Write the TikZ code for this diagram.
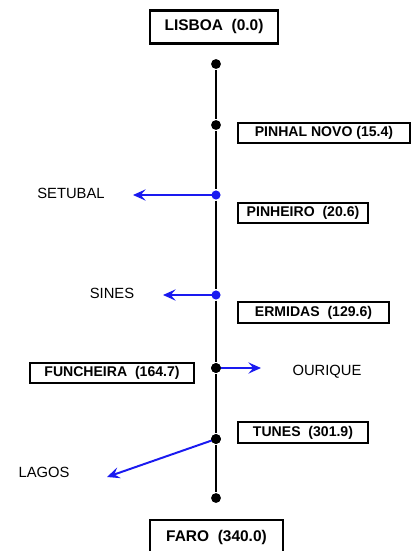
\documentclass[tikz,border=0pt]{standalone}
\usepackage{fontspec}
\setsansfont{Liberation Sans}
\usetikzlibrary{arrows.meta}
\definecolor{lblue}{HTML}{1A1AF0}
\tikzset{
  every picture/.style={font=\sffamily, line width=1.4pt},
  station/.style={draw, line width=0.8pt, font=\sffamily\bfseries, minimum height=0.5cm, inner sep=0pt},
  terminal/.style={draw, line width=1.6pt, font=\sffamily\bfseries\fontsize{11}{13}\selectfont, inner sep=0pt},
  stop/.style={circle, fill=#1, inner sep=0pt, minimum size=7pt},
  stop/.default=black,
  branch/.style={-{Stealth[length=9pt, width=8pt, inset=3.5pt]}, draw=lblue, line width=1.4pt},
  town/.style={font=\sffamily\fontsize{10.5}{12}\selectfont},
}
\begin{document}
\begin{tikzpicture}[x=0.025cm, y=-0.025cm]
  \useasboundingbox (0,0) rectangle (412,551);
  % terminals
  \node[terminal, minimum width=3.2cm, minimum height=0.825cm] (lisboa) at (214,27) {LISBOA\ \ (0.0)};
  \node[terminal, minimum width=3.325cm, minimum height=0.85cm] (faro) at (216.5,537) {FARO\ \ (340.0)};
  % stops on the line
  \node[stop] (top) at (216,64) {};
  \node[stop] (pn) at (216,125) {};
  \node[stop=lblue, minimum size=6.5pt] (ph) at (216,195) {};
  \node[stop=lblue, minimum size=6.5pt] (er) at (216,295) {};
  \node[stop] (fu) at (216,368) {};
  \node[stop] (tu) at (216,439) {};
  \node[stop] (bot) at (216,498) {};
  \draw (top) -- (pn) -- (ph) -- (er) -- (fu) -- (tu) -- (bot);
  % station labels
  \node[station, minimum width=4.3cm] (pinhal) at (324,133) {PINHAL NOVO (15.4)};
  \node[station, minimum width=3.25cm] (pinheiro) at (303,213) {PINHEIRO\ \ (20.6)};
  \node[station, minimum width=3.775cm, minimum height=0.525cm] (ermidas) at (313.5,312.5) {ERMIDAS\ \ (129.6)};
  \node[station, minimum width=4.1cm] (funcheira) at (112,373) {FUNCHEIRA\ \ (164.7)};
  \node[station, minimum width=3.25cm, minimum height=0.525cm] (tunes) at (303,432.5) {TUNES\ \ (301.9)\hspace{1.6em}};
  % branches
  \node[town] (setubal) at (71,193) {SETUBAL};
  \node[town] (sines) at (112,293) {SINES};
  \node[town] (ourique) at (327,372) {OURIQUE};
  \node[town] (lagos) at (44,472) {LAGOS};
  \coordinate (setend) at (133,195);
  \coordinate (sinend) at (163,295);
  \coordinate (ouend) at (261,368);
  \coordinate (lagend) at (107,477);
  \draw[branch] (ph.center) -- (setend);
  \draw[branch] (er.center) -- (sinend);
  \draw[branch] (fu.center) -- (ouend);
  \draw[branch] (tu.center) -- (lagend);
  \fill (fu) circle (3.5pt) (tu) circle (3.5pt);
\end{tikzpicture}
\end{document}
